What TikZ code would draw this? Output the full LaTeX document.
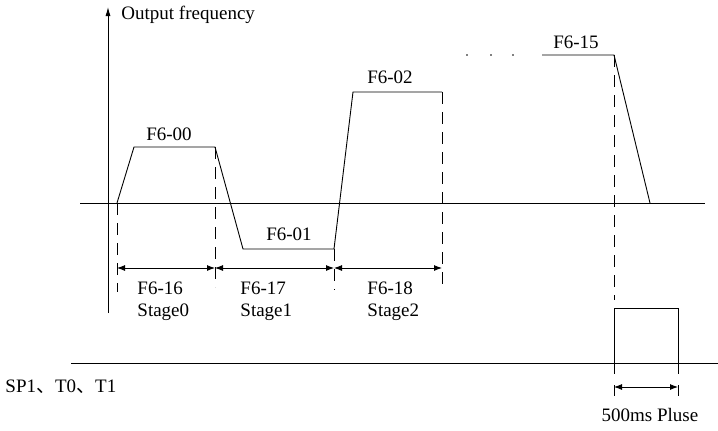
\documentclass[tikz,border=0pt]{standalone}
\usepackage{fontspec}
\setmainfont{Liberation Serif}
\newfontfamily\cjk{Noto Sans CJK SC}
\usepackage{tikz}
\usetikzlibrary{arrows.meta, positioning, calc}

\begin{document}
\begin{tikzpicture}[x=1pt, y=-1pt, line width=0.9pt,
    lbl/.style={font=\fontsize{19}{22}\selectfont, inner sep=0pt, align=left},
    guide/.style={dash pattern=on 12pt off 8pt},
    dimarrow/.style={{Latex[length=8pt,width=6pt]}-{Latex[length=8pt,width=6pt]}}]
    \useasboundingbox (0,0) rectangle (718,431);
    % axes
    \coordinate (ybot) at (108,313);
    \coordinate (ytop) at (108,7);
    \coordinate (xl) at (80,203);
    \coordinate (xr) at (705,203);
    \draw[-{Latex[length=9pt,width=5pt]}] (ybot) -- (ytop);
    \draw (xl) -- (xr);
    \node[lbl, anchor=west] (yname) at (121,15) {Output frequency};
    % frequency profile
    \coordinate (p0) at (117,203);
    \coordinate (p1) at (134,147);
    \coordinate (p2) at (215,147);
    \coordinate (p3) at (243,249);
    \coordinate (p4) at (334,249);
    \coordinate (p5) at (353,92);
    \coordinate (p6) at (442,92);
    \coordinate (q0) at (542,55);
    \coordinate (q1) at (614,55);
    \coordinate (q2) at (650,203);
    \draw (p0) -- (p1) -- (p2) -- (p3) -- (p4) -- (p5) -- (p6);
    \draw (q0) -- (q1) -- (q2);
    \foreach \x in {467,491,513}
        \fill (\x,55) circle (0.9pt);
    \node[lbl] (f00) at (169,134) {F6-00};
    \node[lbl] (f01) at (289,234) {F6-01};
    \node[lbl] (f02) at (390,77) {F6-02};
    \node[lbl] (f15) at (576,42) {F6-15};
    % stage guides
    \coordinate (g0) at (117,292);
    \coordinate (g1) at (215,287);
    \coordinate (g2) at (334,290);
    \coordinate (g3) at (442,287);
    \coordinate (g4) at (614,300);
    \draw[guide] (p0) -- (g0);
    \draw[guide] (p2) -- (g1);
    \draw[guide] (p4) -- (g2);
    \draw[guide] (p6) -- (g3);
    \draw[guide] (q1) -- (g4);
    \coordinate (d0) at (117,268);
    \coordinate (d1) at (215,268);
    \coordinate (d2) at (334,268);
    \coordinate (d3) at (442,268);
    \draw[dimarrow] (d0) -- (d1);
    \draw[dimarrow] (d1) -- (d2);
    \draw[dimarrow] (d2) -- (d3);
    \node[lbl, anchor=west] (s0) at (137,301) {F6-16\\Stage0};
    \node[lbl, anchor=west] (s1) at (240,301) {F6-17\\Stage1};
    \node[lbl, anchor=west] (s2) at (367,301) {F6-18\\Stage2};
    % pulse output
    \coordinate (bl) at (71,363);
    \coordinate (br) at (718,363);
    \coordinate (u0) at (614,363);
    \coordinate (u1) at (614,308);
    \coordinate (u2) at (678,308);
    \coordinate (u3) at (678,363);
    \draw (bl) -- (br);
    \draw (u0) -- (u1) -- (u2) -- (u3);
    \coordinate (t0) at (614,397);
    \coordinate (t1) at (678,397);
    \draw[dash pattern=on 11pt off 11pt] (u0) -- (t0);
    \draw[dash pattern=on 11pt off 11pt] (u3) -- (t1);
    \coordinate (w0) at (614,387);
    \coordinate (w1) at (678,387);
    \draw[dimarrow] (w0) -- (w1);
    \node[lbl] (pw) at (650,415) {500ms Pluse};
    \node[lbl, anchor=west] (sig) at (5,387) {SP1{\cjk 、}T0{\cjk 、}T1};
\end{tikzpicture}
\end{document}
